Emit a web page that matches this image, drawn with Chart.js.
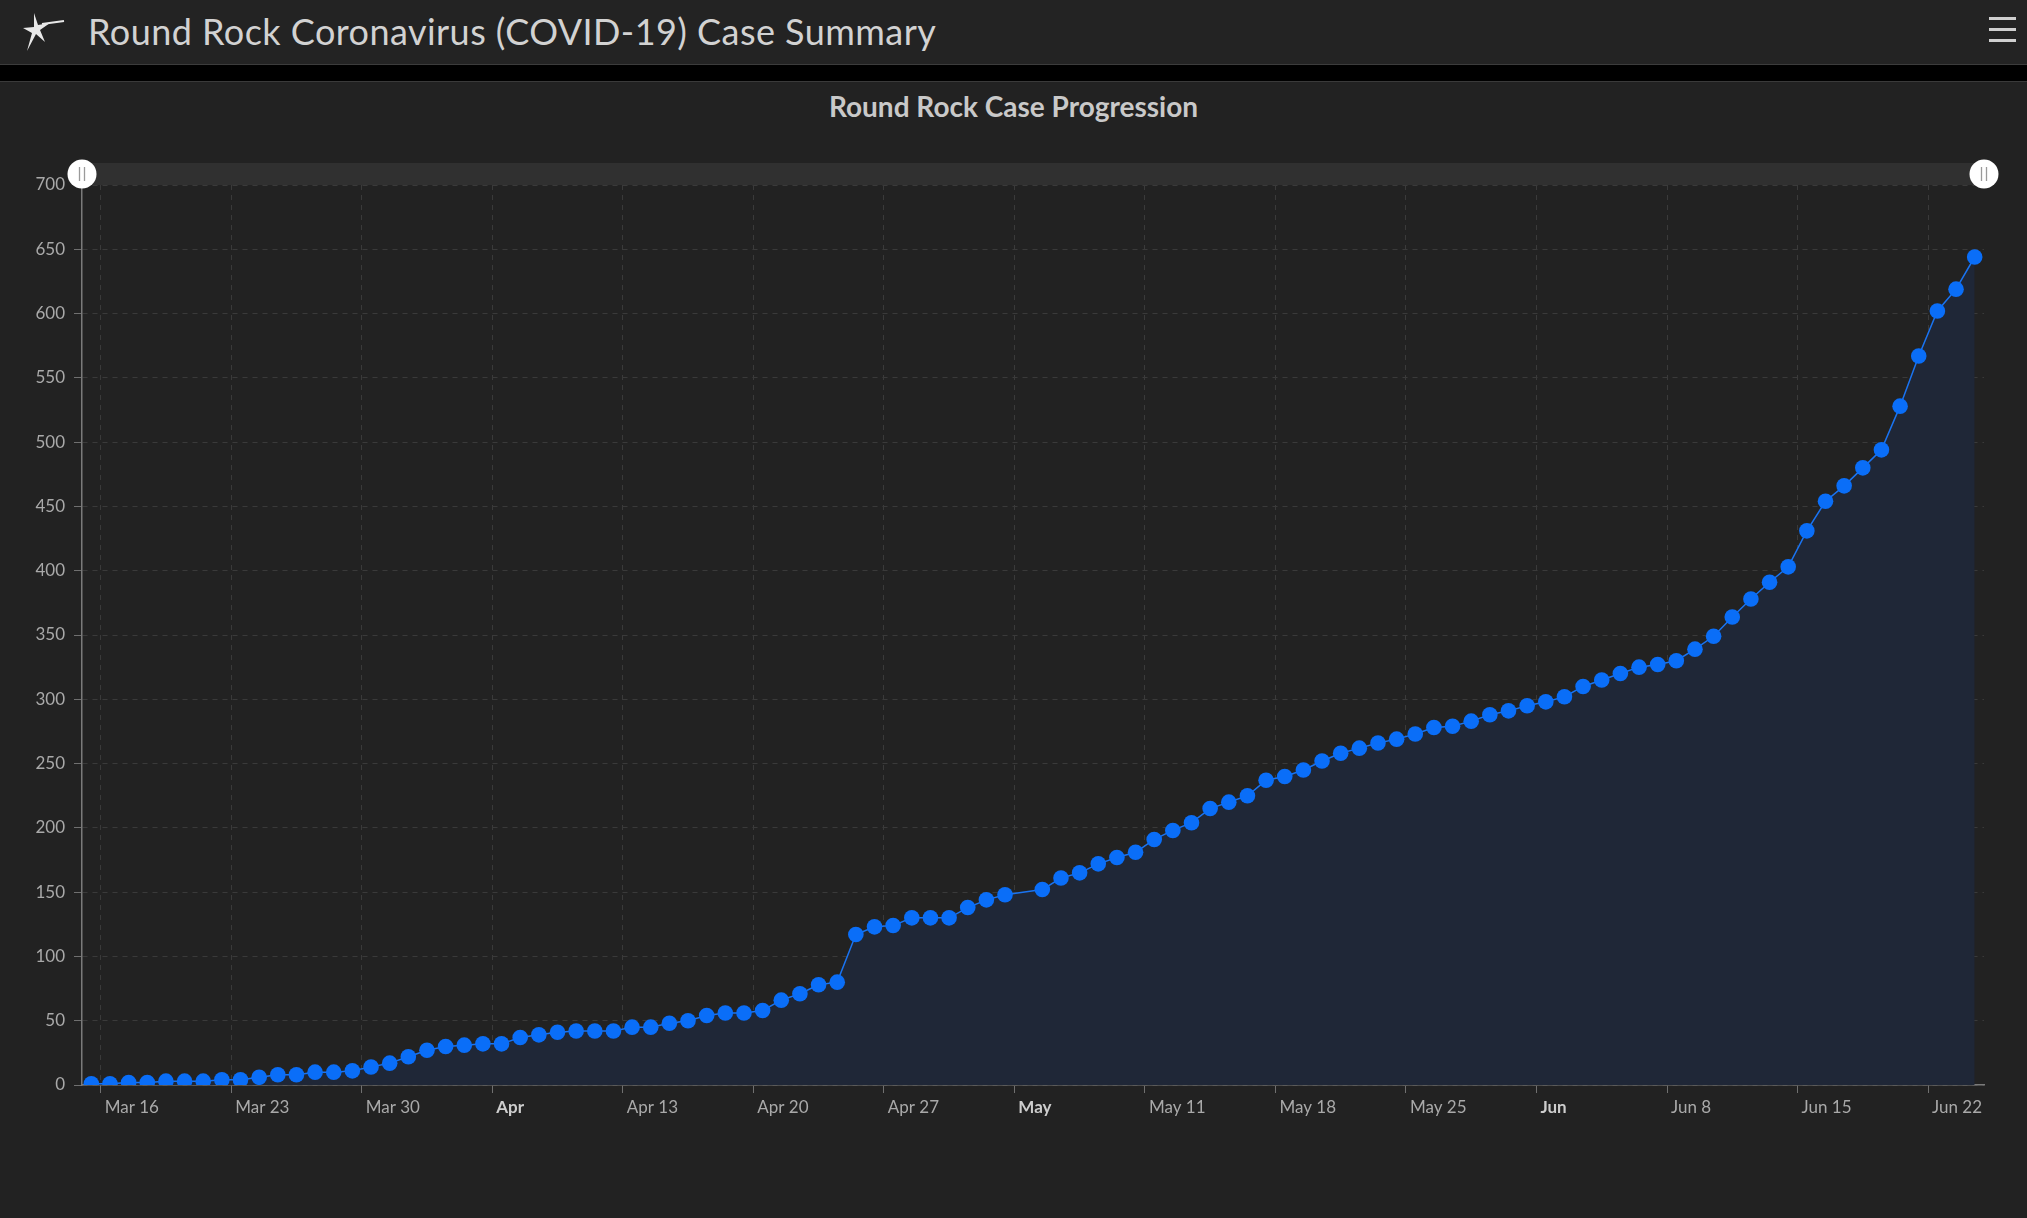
<!DOCTYPE html>
<html>
<head>
<meta charset="utf-8">
<title>Round Rock Coronavirus (COVID-19) Case Summary</title>
<script src="https://cdn.jsdelivr.net/npm/chart.js@4.4.0/dist/chart.umd.min.js"></script>
<style>
  html, body { margin: 0; padding: 0; background: #222; overflow: hidden; }
  body { width: 2027px; height: 1218px; position: relative; font-family: Lato, "Noto Sans", sans-serif; }
  #header {
    position: absolute; left: 0; top: 0; width: 2027px; height: 64px;
    background: #232323; border-bottom: 1px solid #3c3c3c;
  }
  #header .logo { position: absolute; left: 20px; top: 9px; }
  #header h1 {
    position: absolute; left: 88px; top: 5px; margin: 0;
    font-weight: 400; font-size: 36px; line-height: 52px; color: #d2d2d2; letter-spacing: 0.45px;
  }
  #header .menu { position: absolute; left: 1989px; top: 17px; width: 27px; }
  #header .menu span { display: block; height: 3px; background: #cfcfcf; margin-bottom: 8px; }
  #strip { position: absolute; left: 0; top: 65px; width: 2027px; height: 16px; background: #000; border-bottom: 1px solid #3a3a3a; }
  #panelTitle {
    position: absolute; left: 0; top: 89px; width: 2027px; text-align: center;
    font-weight: 700; font-size: 28px; line-height: 34px; color: #c9c9c9;
  }
  #chartBox { position: absolute; left: 0; top: 120px; width: 2027px; height: 1098px; }
</style>
</head>
<body>
<div id="header">
  <svg class="logo" width="46" height="46" viewBox="0 0 46 46">
    <path d="M14 4 L18 16 L30 14 L20 21 L25 33 L16 25 L7 42 L12 24 L3 19 L14 18 Z" fill="#e8e8e8"/>
    <path d="M22 15 L44 12" stroke="#e8e8e8" stroke-width="2"/>
  </svg>
  <h1>Round Rock Coronavirus (COVID-19) Case Summary</h1>
  <div class="menu"><span></span><span></span><span></span></div>
</div>
<div id="strip"></div>
<div id="panelTitle">Round Rock Case Progression</div>
<div id="chartBox"><canvas id="caseChart" width="2027" height="1098"></canvas></div>

<script>
// ข้อมูลผู้ป่วยสะสมรายวัน เริ่ม 15 มี.ค. 2020 (null = ไม่มีรายงาน)
const firstDay = '2020-03-15';
const lastDay = '2020-06-25';
const cases = [
    // Mar 15 - Mar 31
    1, 1, 2, 2, 3, 3, 3, 4, 4, 6, 8, 8, 10, 10, 11, 14, 17,
    // Apr 1 - Apr 30
    22, 27, 30, 31, 32, 32, 37, 39, 41, 42, 42, 42, 45, 45, 48,
    50, 54, 56, 56, 58, 66, 71, 78, 80, 117, 123, 124, 130, 130, 130,
    // May 1 - May 31
    138, 144, 148, null, 152, 161, 165, 172, 177, 181, 191, 198, 204, 215, 220, 225,
    237, 240, 245, 252, 258, 262, 266, 269, 273, 278, 279, 283, 288, 291, 295,
    // Jun 1 - Jun 24
    298, 302, 310, 315, 320, 325, 327, 330, 339, 349, 364, 378,
    391, 403, 431, 454, 466, 480, 494, 528, 567, 602, 619, 644
];

// ป้ายแกน X รายสัปดาห์
const tickDates = ['2020-03-16', '2020-03-23', '2020-03-30', '2020-04-06', '2020-04-13',
    '2020-04-20', '2020-04-27', '2020-05-04', '2020-05-11', '2020-05-18', '2020-05-25',
    '2020-06-01', '2020-06-08', '2020-06-15', '2020-06-22'];
const tickLabels = ['Mar 16', 'Mar 23', 'Mar 30', 'Apr', 'Apr 13', 'Apr 20', 'Apr 27',
    'May', 'May 11', 'May 18', 'May 25', 'Jun', 'Jun 8', 'Jun 15', 'Jun 22'];

const yMin = 0;
const yMax = 700;
const yStep = 50;

// จำนวนวันนับจากวันแรก
function dayIndex(d) {
    return Math.round((Date.parse(d) - Date.parse(firstDay)) / 86400000);
}

// จุดอยู่กลางช่องของแต่ละวัน
const points = cases.map((v, i) => ({ x: i + 0.5, y: v }));

// แถบเลื่อนด้านบนพร้อมปุ่มจับสองข้าง
const scrollbarPlugin = {
    id: 'scrollbar',
    afterDraw(chart) {
        const { ctx, chartArea } = chart;
        const h = 22;
        const cy = chartArea.top - h / 2;
        ctx.save();
        ctx.fillStyle = '#303030';
        ctx.fillRect(chartArea.left, chartArea.top - h, chartArea.right - chartArea.left, h);
        [chartArea.left, chartArea.right].forEach(x => {
            ctx.beginPath();
            ctx.arc(x, cy, 14.5, 0, Math.PI * 2);
            ctx.fillStyle = '#ffffff';
            ctx.fill();
            ctx.strokeStyle = '#9a9a9a';
            ctx.lineWidth = 1.3;
            ctx.beginPath();
            ctx.moveTo(x - 2.5, cy - 7); ctx.lineTo(x - 2.5, cy + 7);
            ctx.moveTo(x + 2.5, cy - 7); ctx.lineTo(x + 2.5, cy + 7);
            ctx.stroke();
        });
        ctx.restore();
    }
};

const ctx = document.getElementById('caseChart').getContext('2d');
new Chart(ctx, {
    type: 'line',
    data: {
        datasets: [{
            data: points,
            borderColor: '#1a74f2',
            borderWidth: 1.5,
            backgroundColor: '#1f2737',
            fill: 'origin',
            spanGaps: true,
            tension: 0,
            pointRadius: 7.8,
            pointBorderWidth: 0,
            pointBackgroundColor: '#0a6ef8'
        }]
    },
    options: {
        responsive: false,
        animation: false,
        events: [],
        layout: { padding: { top: 65, right: 43, left: 0, bottom: 0 } },
        plugins: {
            legend: { display: false },
            title: { display: false },
            tooltip: { enabled: false }
        },
        scales: {
            x: {
                type: 'linear',
                min: 0,
                max: dayIndex(lastDay),
                afterBuildTicks: scale => {
                    scale.ticks = tickDates.map(d => ({ value: dayIndex(d) }));
                },
                afterFit: scale => { scale.height = 133; },
                grid: {
                    color: '#3a3a3a',
                    lineWidth: 1,
                    tickColor: '#707070',
                    tickLength: 8,
                    tickBorderDash: []
                },
                border: { display: true, color: '#7a7a7a', width: 1.5, dash: [5, 5] },
                ticks: {
                    autoSkip: false,
                    maxRotation: 0,
                    align: 'start',
                    labelOffset: 4,
                    padding: 4,
                    color: c => /\d/.test(tickLabels[c.index]) ? '#a9a9a9' : '#cdcdcd',
                    font: c => ({
                        family: 'Lato, "Noto Sans", sans-serif',
                        size: 17,
                        weight: /\d/.test(tickLabels[c.index]) ? 'normal' : 'bold'
                    }),
                    callback: (value, index) => tickLabels[index]
                }
            },
            y: {
                min: yMin,
                max: yMax,
                afterFit: scale => { scale.width = 82; },
                grid: {
                    color: '#3a3a3a',
                    lineWidth: 1,
                    tickColor: '#707070',
                    tickLength: 8,
                    tickBorderDash: []
                },
                border: { display: true, color: '#7a7a7a', width: 1.5, dash: [5, 5] },
                ticks: {
                    stepSize: yStep,
                    padding: 9,
                    color: '#a9a9a9',
                    font: { family: 'Lato, "Noto Sans", sans-serif', size: 17 }
                }
            }
        }
    },
    plugins: [scrollbarPlugin]
});
</script>
</body>
</html>
